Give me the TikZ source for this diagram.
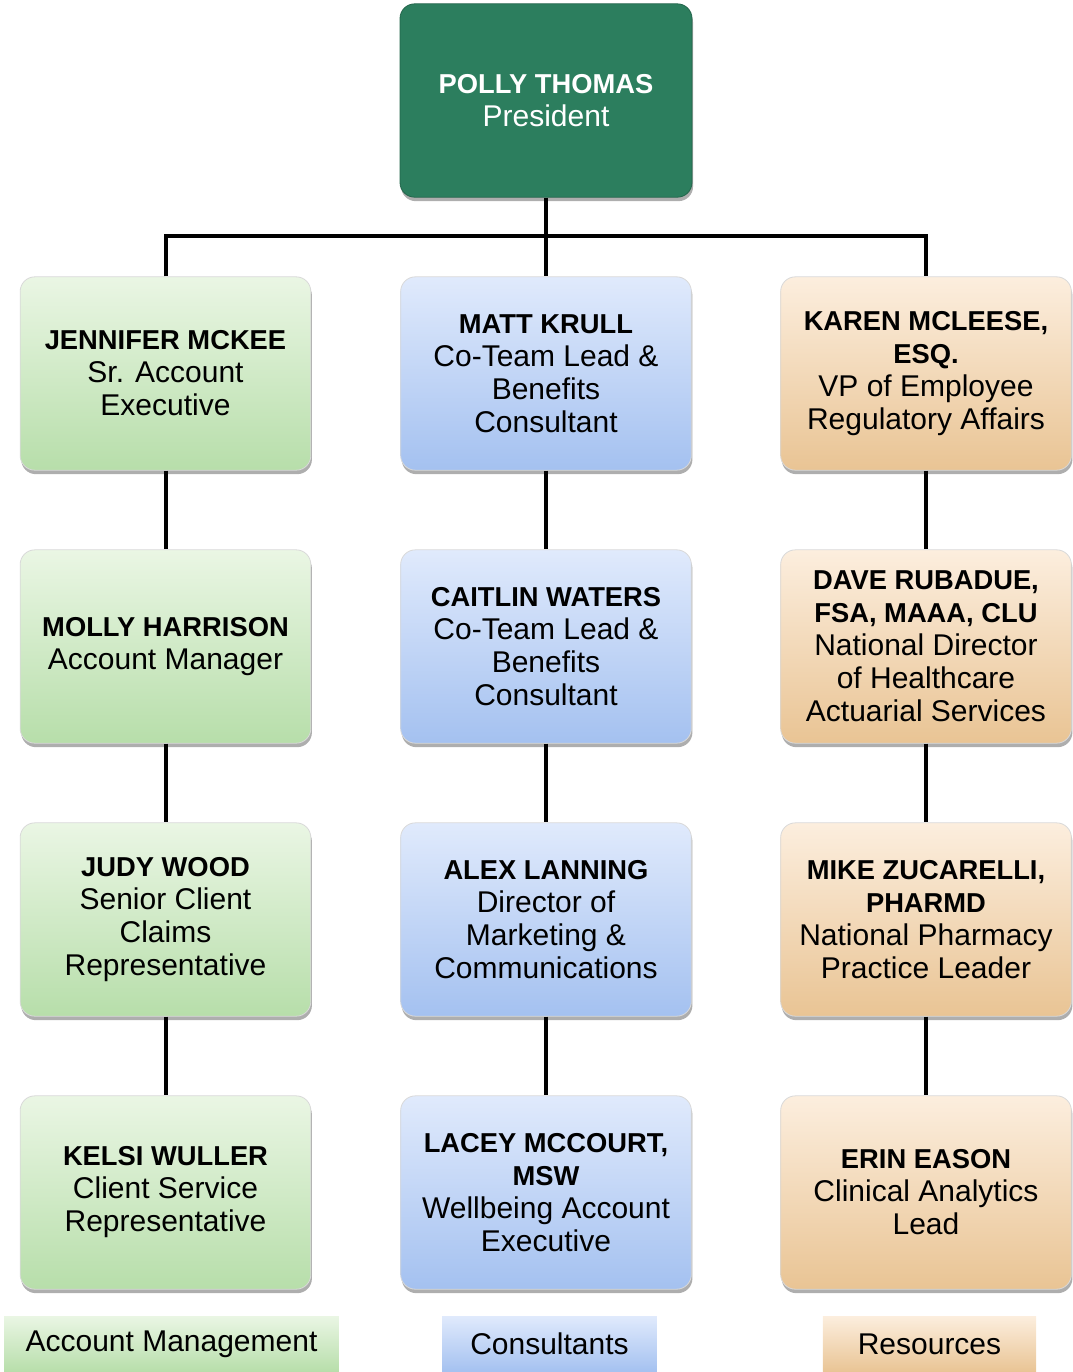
\documentclass[tikz,border=0pt]{standalone}
\usepackage{fontspec}
\setmainfont{Liberation Sans}
\usetikzlibrary{shadows}

\definecolor{presgreen}{RGB}{44,126,94}
\definecolor{amtop}{RGB}{234,246,228}
\definecolor{ambot}{RGB}{183,222,170}
\definecolor{cstop}{RGB}{224,234,252}
\definecolor{csbot}{RGB}{164,193,240}
\definecolor{rstop}{RGB}{252,238,222}
\definecolor{rsbot}{RGB}{233,196,148}

\tikzset{
    card/.style={rounded corners=11pt, minimum width=218pt, minimum height=145pt,
        align=center, draw=black!15, line width=0.6pt,
        font=\fontsize{22.5}{24.75}\selectfont,
        drop shadow={shadow xshift=0.8pt, shadow yshift=-3pt, opacity=0.45, fill=black!70}},
    amcard/.style={card, top color=amtop, bottom color=ambot},
    cscard/.style={card, top color=cstop, bottom color=csbot},
    rscard/.style={card, top color=rstop, bottom color=rsbot},
    legend/.style={minimum height=42pt, inner sep=0pt, font=\fontsize{22.5}{24.75}\selectfont},
    link/.style={line width=3pt, black}
}
\newcommand{\who}[1]{{\fontsize{20.5}{24.75}\selectfont\bfseries #1}}

\begin{document}
\begin{tikzpicture}[x=0.75pt,y=0.75pt,yscale=-1,xscale=1]
    \useasboundingbox (0,0) rectangle (1073,1372);
    % president
    \node [card, fill=presgreen, draw=presgreen!80!black, text=white, minimum width=219pt] (pres) at (546,100.5) {\who{POLLY THOMAS}\\President};
    % account management
    \node [amcard] (am1) at (165.5,373.5) {\who{JENNIFER MCKEE}\\Sr. Account\\Executive};
    \node [amcard] (am2) at (165.5,646.5) {\who{MOLLY HARRISON}\\Account Manager};
    \node [amcard] (am3) at (165.5,919.5) {\who{JUDY WOOD}\\Senior Client\\Claims\\Representative};
    \node [amcard] (am4) at (165.5,1192.5) {\who{KELSI WULLER}\\Client Service\\Representative};
    % consultants
    \node [cscard] (cs1) at (546,373.5) {\who{MATT KRULL}\\Co-Team Lead \&\\Benefits\\Consultant};
    \node [cscard] (cs2) at (546,646.5) {\who{CAITLIN WATERS}\\Co-Team Lead \&\\Benefits\\Consultant};
    \node [cscard] (cs3) at (546,919.5) {\who{ALEX LANNING}\\Director of\\Marketing \&\\Communications};
    \node [cscard] (cs4) at (546,1192.5) {\who{LACEY MCCOURT,}\\\who{MSW}\\Wellbeing Account\\Executive};
    % resources
    \node [rscard] (rs1) at (926,373.5) {\who{KAREN MCLEESE,}\\\who{ESQ.}\\VP of Employee\\Regulatory Affairs};
    \node [rscard] (rs2) at (926,646.5) {\who{DAVE RUBADUE,}\\\who{FSA, MAAA, CLU}\\National Director\\of Healthcare\\Actuarial Services};
    \node [rscard] (rs3) at (926,919.5) {\who{MIKE ZUCARELLI,}\\\who{PHARMD}\\National Pharmacy\\Practice Leader};
    \node [rscard] (rs4) at (926,1192.5) {\who{ERIN EASON}\\Clinical Analytics\\Lead};
    % legend
    \node [legend, minimum width=251pt, top color=amtop, bottom color=ambot] (amkey) at (171.5,1344) {Account Management};
    \node [legend, minimum width=161pt, top color=cstop, bottom color=csbot] (cskey) at (549.5,1344) {Consultants};
    \node [legend, minimum width=160pt, top color=rstop, bottom color=rsbot] (rskey) at (929.5,1344) {Resources};
    % connectors
    \coordinate (bus) at (546,236);
    \draw [link] (pres.south) -- (cs1.north);
    \draw [link] (am1.north) |- (bus) -| (rs1.north);
    \foreach \col in {am,cs,rs}{
        \draw [link] (\col1.south) -- (\col2.north);
        \draw [link] (\col2.south) -- (\col3.north);
        \draw [link] (\col3.south) -- (\col4.north);
    }
\end{tikzpicture}
\end{document}
